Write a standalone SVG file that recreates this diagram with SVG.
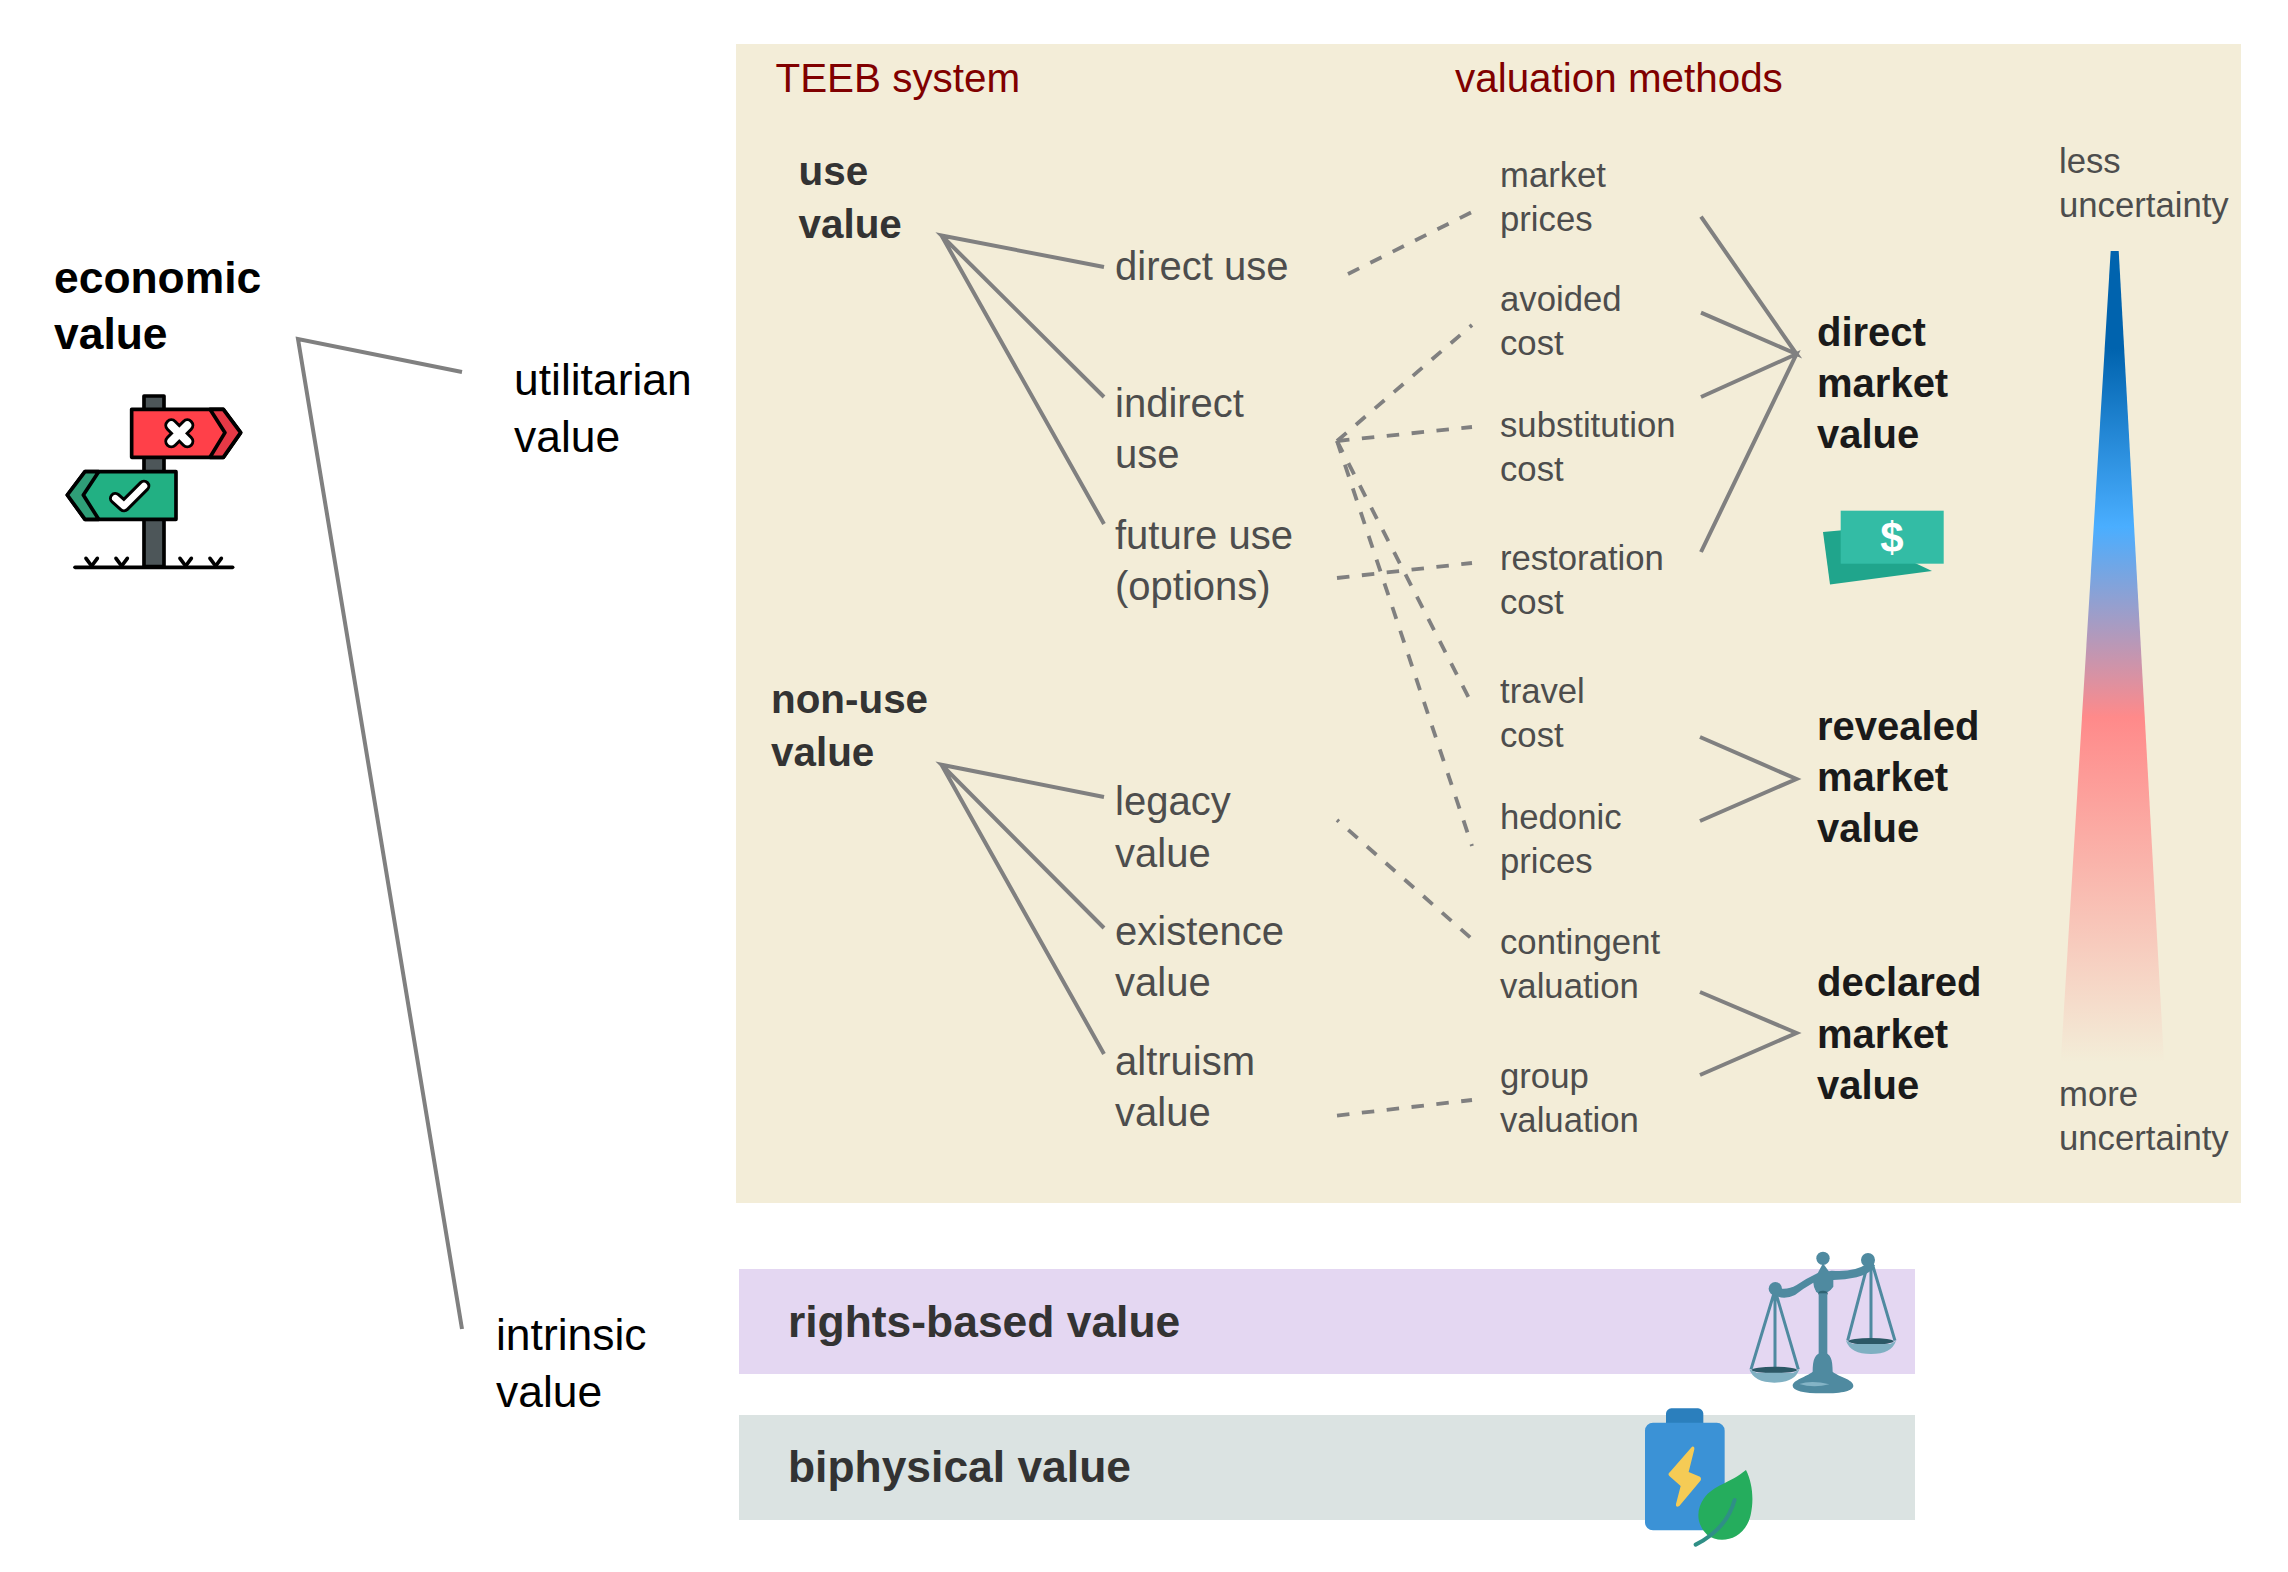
<svg xmlns="http://www.w3.org/2000/svg" width="2288" height="1572" viewBox="0 0 2288 1572">
<style>
text{font-family:"Liberation Sans",Arial,sans-serif}
.h{font-size:44.400px}
.b{font-weight:bold}
.t{font-size:40.400px;fill:#800000}
.m{font-size:40px;fill:#4d4d4d}
.k{font-size:34.700px;fill:#4d4d4d}
.g{font-size:40.400px;font-weight:bold;fill:#333}
.d{font-size:40px;font-weight:bold;fill:#1a1a1a}
.s{stroke:#808080;stroke-width:4;fill:none}
.e{stroke:#808080;stroke-width:3.800;fill:none;stroke-dasharray:12.500 12.500}
</style>
<defs>
<linearGradient id="unc" x1="0" y1="0" x2="0" y2="1">
<stop offset="0" stop-color="#0063ae"/>
<stop offset="0.12" stop-color="#0063ae"/>
<stop offset="0.34" stop-color="#4aaeff"/>
<stop offset="0.575" stop-color="#ff8a8a"/>
<stop offset="1" stop-color="#f3edd8"/>
</linearGradient>
</defs>
<rect width="2288" height="1572" fill="#fff"/>
<rect id="panel" x="736" y="44" width="1505" height="1159" fill="#f3edd8"/>
<rect id="rights-bar" x="739" y="1269" width="1176" height="105" fill="#e4d7f2"/>
<rect id="biophysical-bar" x="739" y="1415" width="1176" height="105" fill="#dbe3e2"/>
<g id="connectors">
<path class="s" d="M462 372L298 339L462 1329"/>
<path class="s" d="M1104 267L941.500 235.500L1104 397M941.500 235.500L1104 524"/>
<path class="s" d="M1104 797L941.500 764.700L1104 928M941.500 764.700L1104 1054"/>
<path class="e" d="M1348 274L1472 212"/>
<path class="e" d="M1337 441L1472 325"/>
<path class="e" d="M1337 441L1472 427"/>
<path class="e" d="M1337 441L1472 704"/>
<path class="e" d="M1337 441L1472 846"/>
<path class="e" d="M1337 578L1472 563"/>
<path class="e" stroke-dashoffset="10" d="M1337 820L1472 939"/>
<path class="e" d="M1337 1115.600L1472 1100"/>
<path class="s" d="M1701 216.600L1796.500 354L1701 312.700M1701 397L1796.500 354L1701 552"/>
<path class="s" d="M1700 737L1796.500 779L1700 821"/>
<path class="s" d="M1700 992L1796.500 1033L1700 1075"/>
</g>
<g id="economic-value"><text class="h b" x="54" y="293">economic</text><text class="h b" x="54" y="349">value</text></g>
<g id="utilitarian-value"><text class="h" x="514" y="394.500">utilitarian</text><text class="h" x="514" y="451.500">value</text></g>
<g id="intrinsic-value"><text class="h" x="496" y="1350">intrinsic</text><text class="h" x="496" y="1407">value</text></g>
<g id="headers"><text class="t" x="775.500" y="91.500">TEEB system</text><text class="t" x="1455" y="91.500">valuation methods</text></g>
<g id="use-value"><text class="g" x="798.500" y="185">use</text><text class="g" x="798.500" y="237.500">value</text></g>
<g id="non-use-value"><text class="g" x="771" y="713">non-use</text><text class="g" x="771" y="765.500">value</text></g>
<g id="direct-use"><text class="m" x="1115" y="280">direct use</text></g>
<g id="indirect-use"><text class="m" x="1115" y="416.500">indirect</text><text class="m" x="1115" y="467.500">use</text></g>
<g id="future-use"><text class="m" x="1115" y="548.500">future use</text><text class="m" x="1115" y="599.500">(options)</text></g>
<g id="legacy-value"><text class="m" x="1115" y="814.500">legacy</text><text class="m" x="1115" y="866.500">value</text></g>
<g id="existence-value"><text class="m" x="1115" y="944.500">existence</text><text class="m" x="1115" y="995.500">value</text></g>
<g id="altruism-value"><text class="m" x="1115" y="1074.500">altruism</text><text class="m" x="1115" y="1125.500">value</text></g>
<g id="market-prices"><text class="k" x="1500" y="187">market</text><text class="k" x="1500" y="231">prices</text></g>
<g id="avoided-cost"><text class="k" x="1500" y="311">avoided</text><text class="k" x="1500" y="355">cost</text></g>
<g id="substitution-cost"><text class="k" x="1500" y="437">substitution</text><text class="k" x="1500" y="481">cost</text></g>
<g id="restoration-cost"><text class="k" x="1500" y="570">restoration</text><text class="k" x="1500" y="614">cost</text></g>
<g id="travel-cost"><text class="k" x="1500" y="703">travel</text><text class="k" x="1500" y="747">cost</text></g>
<g id="hedonic-prices"><text class="k" x="1500" y="829">hedonic</text><text class="k" x="1500" y="873">prices</text></g>
<g id="contingent-valuation"><text class="k" x="1500" y="954">contingent</text><text class="k" x="1500" y="998">valuation</text></g>
<g id="group-valuation"><text class="k" x="1500" y="1087.500">group</text><text class="k" x="1500" y="1131.500">valuation</text></g>
<g id="direct-market-value"><text class="d" x="1817" y="345.500">direct</text><text class="d" x="1817" y="397">market</text><text class="d" x="1817" y="447.500">value</text></g>
<g id="revealed-market-value"><text class="d" x="1817" y="739.500">revealed</text><text class="d" x="1817" y="790.500">market</text><text class="d" x="1817" y="841.500">value</text></g>
<g id="declared-market-value"><text class="d" x="1817" y="996">declared</text><text class="d" x="1817" y="1047.500">market</text><text class="d" x="1817" y="1098.500">value</text></g>
<g id="uncertainty-scale">
<text class="k" x="2059" y="172.500">less</text><text class="k" x="2059" y="216.500">uncertainty</text>
<polygon points="2110.700,251 2118.700,251 2164,1062 2060.700,1062" fill="url(#unc)"/>
<text class="k" x="2059" y="1105.500">more</text><text class="k" x="2059" y="1149.500">uncertainty</text>
</g>
<g id="money-icon">
<polygon points="1823,532 1845,530 1932,571 1830,584.500" fill="#20a58c"/>
<rect x="1840.700" y="510.700" width="103" height="53" fill="#33bca5"/>
<text x="1892" y="552" font-size="42" font-weight="bold" fill="#fff" text-anchor="middle">$</text>
</g>
<g id="rights-based-value"><text class="b" font-size="44.400" fill="#333" x="788" y="1337">rights-based value</text></g>
<g id="biophysical-value"><text class="b" font-size="44.400" fill="#333" x="788" y="1481.500">biphysical value</text></g>
<g id="signpost-icon" transform="translate(40 380) scale(.3333)" stroke-linejoin="round" stroke-linecap="round">
<rect x="312" y="48" width="60" height="512" fill="#4d5659" stroke="#000" stroke-width="11"/>
<path d="M105 562H578" stroke="#000" stroke-width="11" fill="none"/>
<path d="M138 535L155 558L172 535M228 535L245 558L262 535M420 535L437 558L454 535M510 535L527 558L544 535" stroke="#000" stroke-width="11" fill="none"/>
<polygon points="275,88 550,88 602,158 550,232 275,232" fill="#ff4049" stroke="#000" stroke-width="11"/>
<polygon points="510,88 550,88 602,158 550,232 510,232 555,158" fill="#e63946" stroke="#000" stroke-width="11"/>
<polygon points="408,275 135,275 82,345 135,418 408,418" fill="#22b083" stroke="#000" stroke-width="11"/>
<polygon points="176,275 135,275 82,345 135,418 176,418 130,345" fill="#2f9e77" stroke="#000" stroke-width="11"/>
<path d="M394 136L442 184M442 136L394 184" stroke="#000" stroke-width="42" fill="none"/>
<path d="M394 136L442 184M442 136L394 184" stroke="#fff" stroke-width="24" fill="none"/>
<path d="M226 355L252 378L312 318" stroke="#000" stroke-width="38" fill="none"/>
<path d="M226 355L252 378L312 318" stroke="#fff" stroke-width="20" fill="none"/>
</g>
<g id="scales-icon" transform="translate(1740 1240) scale(.3333)">
<g stroke="#4f8aa0" stroke-width="9" fill="none">
<path d="M105 150L33 388M105 150V405M105 150L175 388"/>
<path d="M385 65L323 302M393 65V320M395 65L465 302"/>
</g>
<ellipse cx="103" cy="390" rx="68" ry="10" fill="#2c5866"/>
<path d="M28 388Q40 393 50 398H160Q170 393 178 388Q165 428 103 428Q42 428 28 388Z" fill="#7fb0c2"/>
<ellipse cx="393" cy="304" rx="68" ry="10" fill="#2c5866"/>
<path d="M318 302Q330 307 340 312H450Q460 307 468 302Q455 342 393 342Q332 342 318 302Z" fill="#7fb0c2"/>
<path d="M105 140Q135 155 170 135Q200 115 232 100L275 92Q340 98 380 72L405 75Q395 100 350 112Q315 120 280 120L280 140Q265 162 240 160Q222 155 220 128Q190 145 165 165Q130 182 105 165Z" fill="#4f8aa0"/>
<circle cx="106" cy="146" r="20" fill="#4f8aa0"/>
<circle cx="384" cy="60" r="21" fill="#4f8aa0"/>
<circle cx="249" cy="55" r="20" fill="#4f8aa0"/>
<path d="M249 70L222 120L228 155Q250 175 278 140V110Z" fill="#4f8aa0"/>
<ellipse cx="249" cy="160" rx="14" ry="8" fill="#2f6474"/>
<rect x="236" y="160" width="26" height="190" fill="#4f8aa0"/>
<path d="M249 338C225 338 218 358 218 395C200 410 158 420 158 437C158 452 190 460 248 460C310 460 340 452 340 437C340 418 295 410 278 395C278 358 272 338 249 338Z" fill="#4f8aa0"/>
<path d="M178 432Q215 420 268 433Q220 445 178 432Z" fill="#84b4c6"/>
</g>
<g id="battery-icon" transform="translate(1630 1400) scale(.3333)">
<rect x="108" y="25" width="112" height="70" rx="16" fill="#2b7fbd"/>
<rect x="45" y="68" width="239" height="323" rx="24" fill="#3b92d6"/>
<path d="M186 140Q194 138 193 148L176 216L210 230Q216 236 210 244L148 318Q136 324 138 312L152 258L118 228Q112 222 120 216Z" fill="#f5cb55"/>
<path d="M348 210C300 250 250 255 222 295C198 330 198 372 232 405C270 435 345 420 362 345C372 300 368 250 348 210Z" fill="#25ad5d"/>
<path d="M314 300C300 350 265 400 197 434" stroke="#2f8f86" stroke-width="12" stroke-linecap="round" fill="none"/>
</g>
</svg>
